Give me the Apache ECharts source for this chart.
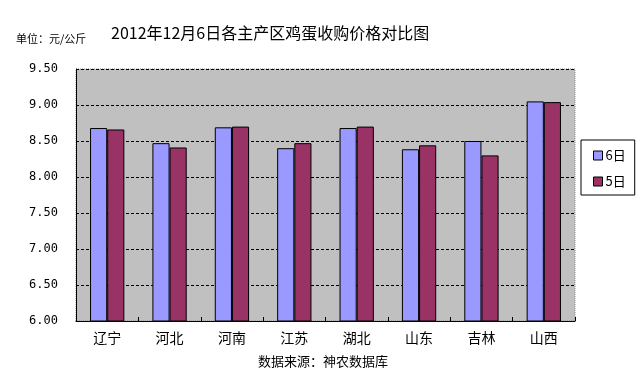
<!DOCTYPE html>
<html>
<head>
<meta charset="utf-8">
<script src="https://cdn.jsdelivr.net/npm/echarts@6/dist/echarts.min.js"></script>
<style>
html,body{margin:0;padding:0;background:#fff;}
#c{width:641px;height:372px;}
</style>
</head>
<body>
<div id="c"></div>
<script>
const categories = ['辽宁','河北','河南','江苏','湖北','山东','吉林','山西'];
const day6 = [8.68, 8.47, 8.69, 8.40, 8.68, 8.385, 8.50, 9.05];
const day5 = [8.66, 8.41, 8.70, 8.47, 8.70, 8.44, 8.30, 9.04];
const seriesNames = ['6日','5日'];
const yTicks = { min: 6, max: 9.5, interval: 0.5 };
const titleText = '2012年12月6日各主产区鸡蛋收购价格对比图';
const unitText = '单位：元/公斤';
const sourceText = '数据来源：神农数据库';

const chart = echarts.init(document.getElementById('c'), null, {renderer:'canvas'});
chart.setOption({
  backgroundColor: '#fff',
  animation: false,
  title: {
    text: titleText,
    left: 106, top: 20,
    textStyle: {fontFamily: 'Noto Sans CJK SC', fontSize: 16, fontWeight: 'normal', color: '#000'}
  },
  graphic: [
    {type:'text', left: 16, top: 33, style:{text: unitText, fontFamily:'Noto Sans CJK SC', fontSize: 11, fill:'#000'}},
    {type:'text', left: 258, top: 355, style:{text: sourceText, fontFamily:'Noto Sans CJK SC', fontSize: 13, fill:'#000'}}
  ],
  legend: {
    orient: 'vertical',
    left: 581, top: 140,
    backgroundColor: '#fff',
    borderColor: '#000', borderWidth: 1,
    padding: [9, 9, 7, 12],
    itemWidth: 9, itemHeight: 9, itemGap: 13,
    icon: 'rect',
    itemStyle: {borderColor: '#000', borderWidth: 1},
    textStyle: {fontFamily: 'Noto Sans CJK SC', fontSize: 13, color: '#000', padding: [0,0,0,-2]},
    data: seriesNames
  },
  grid: {
    left: 76, right: 66, top: 69, bottom: 51,
    show: true, backgroundColor: '#c0c0c0',
    borderColor: '#888', borderWidth: 1, borderType: 'dotted'
  },
  xAxis: {
    type: 'category',
    data: categories,
    axisLine: {lineStyle: {color: '#000', width: 1}},
    axisTick: {show: true, inside: true, length: 4, lineStyle: {color: '#000'}},
    axisLabel: {color: '#000', fontFamily: 'Noto Sans CJK SC', fontSize: 14, margin: 10}
  },
  yAxis: {
    type: 'value',
    min: yTicks.min, max: yTicks.max, interval: yTicks.interval,
    axisLine: {show: true, lineStyle: {color: '#000', width: 1}},
    axisTick: {show: false},
    axisLabel: {color: '#000', fontFamily: 'DejaVu Sans Mono', fontSize: 12, margin: 18,
      formatter: v => v.toFixed(2)},
    splitLine: {show: true, lineStyle: {color: '#000', width: 1, type: [3, 2]}}
  },
  series: [
    {name: seriesNames[0], type: 'bar', data: day6, barGap: '0%', barCategoryGap: '45%',
     itemStyle: {color: '#9999ff', borderColor: '#000', borderWidth: 1}},
    {name: seriesNames[1], type: 'bar', data: day5, barGap: '0%', barCategoryGap: '45%',
     itemStyle: {color: '#993366', borderColor: '#000', borderWidth: 1}}
  ]
});
</script>
</body>
</html>
